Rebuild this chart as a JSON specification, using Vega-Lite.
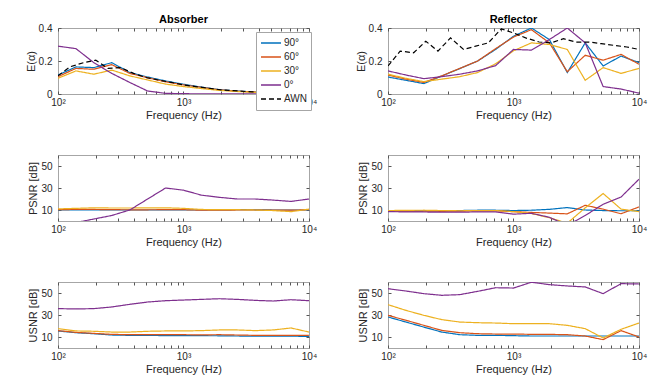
{
"$schema": "https://vega.github.io/schema/vega-lite/v6.json",
"padding": {"left": 24, "top": 13, "right": 5, "bottom": 5},
"background": "white",
"data": {"values": [
{"p":"AE","s":"90°","f":100,"v":0.115},{"p":"AE","s":"90°","f":139,"v":0.164},{"p":"AE","s":"90°","f":193,"v":0.16},{"p":"AE","s":"90°","f":268,"v":0.19},{"p":"AE","s":"90°","f":373,"v":0.13},{"p":"AE","s":"90°","f":518,"v":0.103},{"p":"AE","s":"90°","f":720,"v":0.079},{"p":"AE","s":"90°","f":1000,"v":0.059},{"p":"AE","s":"90°","f":1389,"v":0.042},{"p":"AE","s":"90°","f":1931,"v":0.026},{"p":"AE","s":"90°","f":2683,"v":0.018},{"p":"AE","s":"90°","f":3728,"v":0.012},{"p":"AE","s":"90°","f":5179,"v":0.009},{"p":"AE","s":"90°","f":7197,"v":0.007},{"p":"AE","s":"90°","f":10000,"v":0.005},
{"p":"AE","s":"60°","f":100,"v":0.105},{"p":"AE","s":"60°","f":139,"v":0.155},{"p":"AE","s":"60°","f":193,"v":0.15},{"p":"AE","s":"60°","f":268,"v":0.178},{"p":"AE","s":"60°","f":373,"v":0.125},{"p":"AE","s":"60°","f":518,"v":0.098},{"p":"AE","s":"60°","f":720,"v":0.074},{"p":"AE","s":"60°","f":1000,"v":0.055},{"p":"AE","s":"60°","f":1389,"v":0.04},{"p":"AE","s":"60°","f":1931,"v":0.025},{"p":"AE","s":"60°","f":2683,"v":0.017},{"p":"AE","s":"60°","f":3728,"v":0.012},{"p":"AE","s":"60°","f":5179,"v":0.009},{"p":"AE","s":"60°","f":7197,"v":0.007},{"p":"AE","s":"60°","f":10000,"v":0.005},
{"p":"AE","s":"30°","f":100,"v":0.095},{"p":"AE","s":"30°","f":139,"v":0.14},{"p":"AE","s":"30°","f":193,"v":0.12},{"p":"AE","s":"30°","f":268,"v":0.145},{"p":"AE","s":"30°","f":373,"v":0.11},{"p":"AE","s":"30°","f":518,"v":0.085},{"p":"AE","s":"30°","f":720,"v":0.06},{"p":"AE","s":"30°","f":1000,"v":0.045},{"p":"AE","s":"30°","f":1389,"v":0.033},{"p":"AE","s":"30°","f":1931,"v":0.022},{"p":"AE","s":"30°","f":2683,"v":0.015},{"p":"AE","s":"30°","f":3728,"v":0.01},{"p":"AE","s":"30°","f":5179,"v":0.008},{"p":"AE","s":"30°","f":7197,"v":0.006},{"p":"AE","s":"30°","f":10000,"v":0.004},
{"p":"AE","s":"0°","f":100,"v":0.29},{"p":"AE","s":"0°","f":139,"v":0.275},{"p":"AE","s":"0°","f":193,"v":0.19},{"p":"AE","s":"0°","f":268,"v":0.125},{"p":"AE","s":"0°","f":373,"v":0.07},{"p":"AE","s":"0°","f":518,"v":0.018},{"p":"AE","s":"0°","f":720,"v":0.004},{"p":"AE","s":"0°","f":1000,"v":0.002},{"p":"AE","s":"0°","f":1389,"v":0.001},{"p":"AE","s":"0°","f":1931,"v":0.001},{"p":"AE","s":"0°","f":2683,"v":0.001},{"p":"AE","s":"0°","f":3728,"v":0.001},{"p":"AE","s":"0°","f":5179,"v":0.001},{"p":"AE","s":"0°","f":7197,"v":0.001},{"p":"AE","s":"0°","f":10000,"v":0.001},
{"p":"AE","s":"AWN","f":100,"v":0.11},{"p":"AE","s":"AWN","f":125,"v":0.165},{"p":"AE","s":"AWN","f":160,"v":0.19},{"p":"AE","s":"AWN","f":200,"v":0.205},{"p":"AE","s":"AWN","f":250,"v":0.155},{"p":"AE","s":"AWN","f":315,"v":0.16},{"p":"AE","s":"AWN","f":400,"v":0.125},{"p":"AE","s":"AWN","f":500,"v":0.1},{"p":"AE","s":"AWN","f":630,"v":0.085},{"p":"AE","s":"AWN","f":800,"v":0.07},{"p":"AE","s":"AWN","f":1000,"v":0.055},{"p":"AE","s":"AWN","f":1250,"v":0.045},{"p":"AE","s":"AWN","f":1600,"v":0.035},{"p":"AE","s":"AWN","f":2000,"v":0.025},{"p":"AE","s":"AWN","f":2500,"v":0.02},{"p":"AE","s":"AWN","f":3150,"v":0.015},{"p":"AE","s":"AWN","f":4000,"v":0.012},{"p":"AE","s":"AWN","f":5000,"v":0.01},{"p":"AE","s":"AWN","f":6300,"v":0.008},{"p":"AE","s":"AWN","f":8000,"v":0.007},{"p":"AE","s":"AWN","f":10000,"v":0.006},
{"p":"RE","s":"90°","f":100,"v":0.103},{"p":"RE","s":"90°","f":139,"v":0.083},{"p":"RE","s":"90°","f":193,"v":0.063},{"p":"RE","s":"90°","f":268,"v":0.109},{"p":"RE","s":"90°","f":373,"v":0.154},{"p":"RE","s":"90°","f":518,"v":0.2},{"p":"RE","s":"90°","f":720,"v":0.27},{"p":"RE","s":"90°","f":1000,"v":0.35},{"p":"RE","s":"90°","f":1389,"v":0.4},{"p":"RE","s":"90°","f":1931,"v":0.33},{"p":"RE","s":"90°","f":2683,"v":0.13},{"p":"RE","s":"90°","f":3728,"v":0.31},{"p":"RE","s":"90°","f":5179,"v":0.17},{"p":"RE","s":"90°","f":7197,"v":0.23},{"p":"RE","s":"90°","f":10000,"v":0.19},
{"p":"RE","s":"60°","f":100,"v":0.115},{"p":"RE","s":"60°","f":139,"v":0.09},{"p":"RE","s":"60°","f":193,"v":0.07},{"p":"RE","s":"60°","f":268,"v":0.11},{"p":"RE","s":"60°","f":373,"v":0.155},{"p":"RE","s":"60°","f":518,"v":0.2},{"p":"RE","s":"60°","f":720,"v":0.275},{"p":"RE","s":"60°","f":1000,"v":0.345},{"p":"RE","s":"60°","f":1389,"v":0.39},{"p":"RE","s":"60°","f":1931,"v":0.31},{"p":"RE","s":"60°","f":2683,"v":0.135},{"p":"RE","s":"60°","f":3728,"v":0.235},{"p":"RE","s":"60°","f":5179,"v":0.205},{"p":"RE","s":"60°","f":7197,"v":0.24},{"p":"RE","s":"60°","f":10000,"v":0.18},
{"p":"RE","s":"30°","f":100,"v":0.12},{"p":"RE","s":"30°","f":139,"v":0.095},{"p":"RE","s":"30°","f":193,"v":0.075},{"p":"RE","s":"30°","f":268,"v":0.09},{"p":"RE","s":"30°","f":373,"v":0.105},{"p":"RE","s":"30°","f":518,"v":0.13},{"p":"RE","s":"30°","f":720,"v":0.183},{"p":"RE","s":"30°","f":1000,"v":0.262},{"p":"RE","s":"30°","f":1389,"v":0.31},{"p":"RE","s":"30°","f":1931,"v":0.3},{"p":"RE","s":"30°","f":2683,"v":0.27},{"p":"RE","s":"30°","f":3728,"v":0.083},{"p":"RE","s":"30°","f":5179,"v":0.16},{"p":"RE","s":"30°","f":7197,"v":0.125},{"p":"RE","s":"30°","f":10000,"v":0.155},
{"p":"RE","s":"0°","f":100,"v":0.14},{"p":"RE","s":"0°","f":139,"v":0.115},{"p":"RE","s":"0°","f":193,"v":0.093},{"p":"RE","s":"0°","f":268,"v":0.105},{"p":"RE","s":"0°","f":373,"v":0.12},{"p":"RE","s":"0°","f":518,"v":0.14},{"p":"RE","s":"0°","f":720,"v":0.172},{"p":"RE","s":"0°","f":1000,"v":0.27},{"p":"RE","s":"0°","f":1389,"v":0.266},{"p":"RE","s":"0°","f":1931,"v":0.33},{"p":"RE","s":"0°","f":2683,"v":0.4},{"p":"RE","s":"0°","f":3728,"v":0.31},{"p":"RE","s":"0°","f":5179,"v":0.045},{"p":"RE","s":"0°","f":7197,"v":0.03},{"p":"RE","s":"0°","f":10000,"v":0.005},
{"p":"RE","s":"AWN","f":100,"v":0.17},{"p":"RE","s":"AWN","f":125,"v":0.26},{"p":"RE","s":"AWN","f":160,"v":0.25},{"p":"RE","s":"AWN","f":200,"v":0.32},{"p":"RE","s":"AWN","f":250,"v":0.26},{"p":"RE","s":"AWN","f":315,"v":0.34},{"p":"RE","s":"AWN","f":400,"v":0.27},{"p":"RE","s":"AWN","f":500,"v":0.29},{"p":"RE","s":"AWN","f":630,"v":0.31},{"p":"RE","s":"AWN","f":800,"v":0.395},{"p":"RE","s":"AWN","f":1000,"v":0.37},{"p":"RE","s":"AWN","f":1250,"v":0.34},{"p":"RE","s":"AWN","f":1600,"v":0.315},{"p":"RE","s":"AWN","f":2000,"v":0.31},{"p":"RE","s":"AWN","f":2500,"v":0.335},{"p":"RE","s":"AWN","f":3150,"v":0.315},{"p":"RE","s":"AWN","f":4000,"v":0.315},{"p":"RE","s":"AWN","f":5000,"v":0.305},{"p":"RE","s":"AWN","f":6300,"v":0.295},{"p":"RE","s":"AWN","f":8000,"v":0.285},{"p":"RE","s":"AWN","f":10000,"v":0.27},
{"p":"AP","s":"90°","f":100,"v":10},{"p":"AP","s":"90°","f":139,"v":10},{"p":"AP","s":"90°","f":193,"v":10},{"p":"AP","s":"90°","f":268,"v":10},{"p":"AP","s":"90°","f":373,"v":10},{"p":"AP","s":"90°","f":518,"v":10},{"p":"AP","s":"90°","f":720,"v":10},{"p":"AP","s":"90°","f":1000,"v":10},{"p":"AP","s":"90°","f":1389,"v":10},{"p":"AP","s":"90°","f":1931,"v":10},{"p":"AP","s":"90°","f":2683,"v":10.3},{"p":"AP","s":"90°","f":3728,"v":10.2},{"p":"AP","s":"90°","f":5179,"v":10},{"p":"AP","s":"90°","f":7197,"v":10},{"p":"AP","s":"90°","f":10000,"v":10},
{"p":"AP","s":"60°","f":100,"v":10.3},{"p":"AP","s":"60°","f":139,"v":10.5},{"p":"AP","s":"60°","f":193,"v":10.5},{"p":"AP","s":"60°","f":268,"v":10.3},{"p":"AP","s":"60°","f":373,"v":10.2},{"p":"AP","s":"60°","f":518,"v":10.2},{"p":"AP","s":"60°","f":720,"v":10.3},{"p":"AP","s":"60°","f":1000,"v":10.3},{"p":"AP","s":"60°","f":1389,"v":9.8},{"p":"AP","s":"60°","f":1931,"v":9.8},{"p":"AP","s":"60°","f":2683,"v":10},{"p":"AP","s":"60°","f":3728,"v":10},{"p":"AP","s":"60°","f":5179,"v":10},{"p":"AP","s":"60°","f":7197,"v":9.8},{"p":"AP","s":"60°","f":10000,"v":10.3},
{"p":"AP","s":"30°","f":100,"v":11},{"p":"AP","s":"30°","f":139,"v":11.5},{"p":"AP","s":"30°","f":193,"v":12},{"p":"AP","s":"30°","f":268,"v":11.8},{"p":"AP","s":"30°","f":373,"v":11.8},{"p":"AP","s":"30°","f":518,"v":12},{"p":"AP","s":"30°","f":720,"v":12},{"p":"AP","s":"30°","f":1000,"v":11.5},{"p":"AP","s":"30°","f":1389,"v":10.5},{"p":"AP","s":"30°","f":1931,"v":10.3},{"p":"AP","s":"30°","f":2683,"v":10.3},{"p":"AP","s":"30°","f":3728,"v":10},{"p":"AP","s":"30°","f":5179,"v":9.5},{"p":"AP","s":"30°","f":7197,"v":8.5},{"p":"AP","s":"30°","f":10000,"v":10.8},
{"p":"AP","s":"0°","f":100,"v":-4.5},{"p":"AP","s":"0°","f":139,"v":-1.4},{"p":"AP","s":"0°","f":193,"v":1.8},{"p":"AP","s":"0°","f":268,"v":5},{"p":"AP","s":"0°","f":373,"v":10},{"p":"AP","s":"0°","f":518,"v":20},{"p":"AP","s":"0°","f":720,"v":30},{"p":"AP","s":"0°","f":1000,"v":28},{"p":"AP","s":"0°","f":1389,"v":23.5},{"p":"AP","s":"0°","f":1931,"v":21.5},{"p":"AP","s":"0°","f":2683,"v":20},{"p":"AP","s":"0°","f":3728,"v":20},{"p":"AP","s":"0°","f":5179,"v":19},{"p":"AP","s":"0°","f":7197,"v":17.8},{"p":"AP","s":"0°","f":10000,"v":20},
{"p":"RP","s":"90°","f":100,"v":9},{"p":"RP","s":"90°","f":139,"v":9.2},{"p":"RP","s":"90°","f":193,"v":9.3},{"p":"RP","s":"90°","f":268,"v":9.2},{"p":"RP","s":"90°","f":373,"v":9.5},{"p":"RP","s":"90°","f":518,"v":9.8},{"p":"RP","s":"90°","f":720,"v":9.8},{"p":"RP","s":"90°","f":1000,"v":9.5},{"p":"RP","s":"90°","f":1389,"v":9.8},{"p":"RP","s":"90°","f":1931,"v":10.6},{"p":"RP","s":"90°","f":2683,"v":12.2},{"p":"RP","s":"90°","f":3728,"v":10},{"p":"RP","s":"90°","f":5179,"v":9.5},{"p":"RP","s":"90°","f":7197,"v":9.3},{"p":"RP","s":"90°","f":10000,"v":9.3},
{"p":"RP","s":"60°","f":100,"v":8.8},{"p":"RP","s":"60°","f":139,"v":9},{"p":"RP","s":"60°","f":193,"v":9},{"p":"RP","s":"60°","f":268,"v":8.8},{"p":"RP","s":"60°","f":373,"v":9},{"p":"RP","s":"60°","f":518,"v":9.2},{"p":"RP","s":"60°","f":720,"v":9.3},{"p":"RP","s":"60°","f":1000,"v":8.5},{"p":"RP","s":"60°","f":1389,"v":7.8},{"p":"RP","s":"60°","f":1931,"v":7.2},{"p":"RP","s":"60°","f":2683,"v":6.5},{"p":"RP","s":"60°","f":3728,"v":14.3},{"p":"RP","s":"60°","f":5179,"v":10.8},{"p":"RP","s":"60°","f":7197,"v":6.6},{"p":"RP","s":"60°","f":10000,"v":12.8},
{"p":"RP","s":"30°","f":100,"v":9.5},{"p":"RP","s":"30°","f":139,"v":9.7},{"p":"RP","s":"30°","f":193,"v":9.8},{"p":"RP","s":"30°","f":268,"v":9.5},{"p":"RP","s":"30°","f":373,"v":9.3},{"p":"RP","s":"30°","f":518,"v":9.5},{"p":"RP","s":"30°","f":720,"v":9.5},{"p":"RP","s":"30°","f":1000,"v":8.5},{"p":"RP","s":"30°","f":1389,"v":6.8},{"p":"RP","s":"30°","f":1931,"v":3},{"p":"RP","s":"30°","f":2683,"v":-2},{"p":"RP","s":"30°","f":3728,"v":12},{"p":"RP","s":"30°","f":5179,"v":25},{"p":"RP","s":"30°","f":7197,"v":10.8},{"p":"RP","s":"30°","f":10000,"v":8.5},
{"p":"RP","s":"0°","f":100,"v":8.5},{"p":"RP","s":"0°","f":139,"v":8.3},{"p":"RP","s":"0°","f":193,"v":8.2},{"p":"RP","s":"0°","f":268,"v":8},{"p":"RP","s":"0°","f":373,"v":8},{"p":"RP","s":"0°","f":518,"v":8.3},{"p":"RP","s":"0°","f":720,"v":8.3},{"p":"RP","s":"0°","f":1000,"v":6.2},{"p":"RP","s":"0°","f":1389,"v":7},{"p":"RP","s":"0°","f":1931,"v":3.4},{"p":"RP","s":"0°","f":2683,"v":-4},{"p":"RP","s":"0°","f":3728,"v":5},{"p":"RP","s":"0°","f":5179,"v":15.2},{"p":"RP","s":"0°","f":7197,"v":21.8},{"p":"RP","s":"0°","f":10000,"v":38},
{"p":"AU","s":"90°","f":100,"v":15.5},{"p":"AU","s":"90°","f":139,"v":13.9},{"p":"AU","s":"90°","f":193,"v":13},{"p":"AU","s":"90°","f":268,"v":11.8},{"p":"AU","s":"90°","f":373,"v":11.5},{"p":"AU","s":"90°","f":518,"v":11.4},{"p":"AU","s":"90°","f":720,"v":11.3},{"p":"AU","s":"90°","f":1000,"v":11.3},{"p":"AU","s":"90°","f":1389,"v":11.2},{"p":"AU","s":"90°","f":1931,"v":11.1},{"p":"AU","s":"90°","f":2683,"v":10.9},{"p":"AU","s":"90°","f":3728,"v":10.8},{"p":"AU","s":"90°","f":5179,"v":10.7},{"p":"AU","s":"90°","f":7197,"v":10.7},{"p":"AU","s":"90°","f":10000,"v":10.6},
{"p":"AU","s":"60°","f":100,"v":15.8},{"p":"AU","s":"60°","f":139,"v":14.2},{"p":"AU","s":"60°","f":193,"v":13.3},{"p":"AU","s":"60°","f":268,"v":12.4},{"p":"AU","s":"60°","f":373,"v":12.1},{"p":"AU","s":"60°","f":518,"v":12.1},{"p":"AU","s":"60°","f":720,"v":12.1},{"p":"AU","s":"60°","f":1000,"v":12.1},{"p":"AU","s":"60°","f":1389,"v":11.9},{"p":"AU","s":"60°","f":1931,"v":12.1},{"p":"AU","s":"60°","f":2683,"v":11.8},{"p":"AU","s":"60°","f":3728,"v":11.5},{"p":"AU","s":"60°","f":5179,"v":11.5},{"p":"AU","s":"60°","f":7197,"v":11.5},{"p":"AU","s":"60°","f":10000,"v":11.5},
{"p":"AU","s":"30°","f":100,"v":17.6},{"p":"AU","s":"30°","f":139,"v":15.5},{"p":"AU","s":"30°","f":193,"v":15.2},{"p":"AU","s":"30°","f":268,"v":14.5},{"p":"AU","s":"30°","f":373,"v":14.5},{"p":"AU","s":"30°","f":518,"v":15.2},{"p":"AU","s":"30°","f":720,"v":15.5},{"p":"AU","s":"30°","f":1000,"v":15.5},{"p":"AU","s":"30°","f":1389,"v":15.8},{"p":"AU","s":"30°","f":1931,"v":16.4},{"p":"AU","s":"30°","f":2683,"v":16.4},{"p":"AU","s":"30°","f":3728,"v":15.8},{"p":"AU","s":"30°","f":5179,"v":16.4},{"p":"AU","s":"30°","f":7197,"v":18.2},{"p":"AU","s":"30°","f":10000,"v":14.5},
{"p":"AU","s":"0°","f":100,"v":35.8},{"p":"AU","s":"0°","f":139,"v":35.5},{"p":"AU","s":"0°","f":193,"v":35.8},{"p":"AU","s":"0°","f":268,"v":37.3},{"p":"AU","s":"0°","f":373,"v":39.7},{"p":"AU","s":"0°","f":518,"v":41.8},{"p":"AU","s":"0°","f":720,"v":43},{"p":"AU","s":"0°","f":1000,"v":43.6},{"p":"AU","s":"0°","f":1389,"v":44.2},{"p":"AU","s":"0°","f":1931,"v":44.8},{"p":"AU","s":"0°","f":2683,"v":44.2},{"p":"AU","s":"0°","f":3728,"v":43.3},{"p":"AU","s":"0°","f":5179,"v":42.7},{"p":"AU","s":"0°","f":7197,"v":43.9},{"p":"AU","s":"0°","f":10000,"v":43},
{"p":"RU","s":"90°","f":100,"v":28.2},{"p":"RU","s":"90°","f":139,"v":23.6},{"p":"RU","s":"90°","f":193,"v":19},{"p":"RU","s":"90°","f":268,"v":14.5},{"p":"RU","s":"90°","f":373,"v":12.1},{"p":"RU","s":"90°","f":518,"v":11.5},{"p":"RU","s":"90°","f":720,"v":11.5},{"p":"RU","s":"90°","f":1000,"v":11.2},{"p":"RU","s":"90°","f":1389,"v":10.9},{"p":"RU","s":"90°","f":1931,"v":10.9},{"p":"RU","s":"90°","f":2683,"v":10.9},{"p":"RU","s":"90°","f":3728,"v":10.9},{"p":"RU","s":"90°","f":5179,"v":10.9},{"p":"RU","s":"90°","f":7197,"v":10.9},{"p":"RU","s":"90°","f":10000,"v":10.9},
{"p":"RU","s":"60°","f":100,"v":29.7},{"p":"RU","s":"60°","f":139,"v":25.2},{"p":"RU","s":"60°","f":193,"v":20.6},{"p":"RU","s":"60°","f":268,"v":16},{"p":"RU","s":"60°","f":373,"v":13.9},{"p":"RU","s":"60°","f":518,"v":13},{"p":"RU","s":"60°","f":720,"v":12.7},{"p":"RU","s":"60°","f":1000,"v":12.7},{"p":"RU","s":"60°","f":1389,"v":12.4},{"p":"RU","s":"60°","f":1931,"v":12.4},{"p":"RU","s":"60°","f":2683,"v":12.1},{"p":"RU","s":"60°","f":3728,"v":10.9},{"p":"RU","s":"60°","f":5179,"v":7.6},{"p":"RU","s":"60°","f":7197,"v":15.8},{"p":"RU","s":"60°","f":10000,"v":10},
{"p":"RU","s":"30°","f":100,"v":39.4},{"p":"RU","s":"30°","f":139,"v":34.2},{"p":"RU","s":"30°","f":193,"v":29.7},{"p":"RU","s":"30°","f":268,"v":25.8},{"p":"RU","s":"30°","f":373,"v":23.6},{"p":"RU","s":"30°","f":518,"v":23},{"p":"RU","s":"30°","f":720,"v":22.7},{"p":"RU","s":"30°","f":1000,"v":22.1},{"p":"RU","s":"30°","f":1389,"v":22.1},{"p":"RU","s":"30°","f":1931,"v":22.1},{"p":"RU","s":"30°","f":2683,"v":20.6},{"p":"RU","s":"30°","f":3728,"v":17.6},{"p":"RU","s":"30°","f":5179,"v":9.1},{"p":"RU","s":"30°","f":7197,"v":17},{"p":"RU","s":"30°","f":10000,"v":22.7},
{"p":"RU","s":"0°","f":100,"v":53.9},{"p":"RU","s":"0°","f":139,"v":51.8},{"p":"RU","s":"0°","f":193,"v":49.4},{"p":"RU","s":"0°","f":268,"v":47.9},{"p":"RU","s":"0°","f":373,"v":48.5},{"p":"RU","s":"0°","f":518,"v":51.5},{"p":"RU","s":"0°","f":720,"v":54.8},{"p":"RU","s":"0°","f":1000,"v":54.5},{"p":"RU","s":"0°","f":1389,"v":59.8},{"p":"RU","s":"0°","f":1931,"v":57.6},{"p":"RU","s":"0°","f":2683,"v":56.4},{"p":"RU","s":"0°","f":3728,"v":55.5},{"p":"RU","s":"0°","f":5179,"v":49.4},{"p":"RU","s":"0°","f":7197,"v":58.5},{"p":"RU","s":"0°","f":10000,"v":58.2}
]},
"columns": 2,
"spacing": {"row": 61, "column": 79},
"bounds": "flush",
"resolve": {"scale": {"color": "shared", "strokeDash": "shared"}, "legend": {"color": "shared", "strokeDash": "shared"}},
"concat": [
{"width": 251, "height": 66, "title": "Absorber", "transform": [{"filter": "datum.p=='AE'"}],
 "resolve": {"axis": {"x": "independent", "y": "independent"}},
 "layer": [
 {"mark": {"type": "line", "clip": true, "strokeWidth": 1.2},
 "encoding": {
  "x": {"field": "f", "type": "quantitative", "scale": {"type": "log", "domain": [100, 10000], "nice": false}, "axis": {"title": "Frequency (Hz)", "values": [100,200,300,400,500,600,700,800,900,1000,2000,3000,4000,5000,6000,7000,8000,9000,10000], "labelExpr": "datum.value==100?'10²':datum.value==1000?'10³':datum.value==10000?'10⁴':''"}},
  "y": {"field": "v", "type": "quantitative", "scale": {"domain": [0, 0.4], "nice": false}, "axis": {"title": "E(α)", "values": [0, 0.2, 0.4], "format": "~g"}},
  "color": {"field": "s", "type": "nominal", "title": null, "scale": {"domain": ["90°","60°","30°","0°","AWN"], "range": ["#0072BD","#D95319","#EDB120","#7E2F8E","#000000"]}},
  "strokeDash": {"field": "s", "type": "nominal", "title": null, "scale": {"domain": ["90°","60°","30°","0°","AWN"], "range": [[1,0],[1,0],[1,0],[1,0],[5,3]]}}
 }},
 {"mark": {"type": "point", "opacity": 0},
 "encoding": {
  "x": {"field": "f", "type": "quantitative", "scale": {"type": "log", "domain": [100, 10000], "nice": false}, "axis": {"orient": "top", "title": null, "labels": false, "values": [100,200,300,400,500,600,700,800,900,1000,2000,3000,4000,5000,6000,7000,8000,9000,10000]}},
  "y": {"field": "v", "type": "quantitative", "scale": {"domain": [0, 0.4], "nice": false}, "axis": {"orient": "right", "title": null, "labels": false, "values": [0, 0.2, 0.4]}}
 }}
 ]},
{"width": 251, "height": 66, "title": "Reflector", "transform": [{"filter": "datum.p=='RE'"}],
 "resolve": {"axis": {"x": "independent", "y": "independent"}},
 "layer": [
 {"mark": {"type": "line", "clip": true, "strokeWidth": 1.2},
 "encoding": {
  "x": {"field": "f", "type": "quantitative", "scale": {"type": "log", "domain": [100, 10000], "nice": false}, "axis": {"title": "Frequency (Hz)", "values": [100,200,300,400,500,600,700,800,900,1000,2000,3000,4000,5000,6000,7000,8000,9000,10000], "labelExpr": "datum.value==100?'10²':datum.value==1000?'10³':datum.value==10000?'10⁴':''"}},
  "y": {"field": "v", "type": "quantitative", "scale": {"domain": [0, 0.4], "nice": false}, "axis": {"title": "E(α)", "values": [0, 0.2, 0.4], "format": "~g"}},
  "color": {"field": "s", "type": "nominal", "title": null, "scale": {"domain": ["90°","60°","30°","0°","AWN"], "range": ["#0072BD","#D95319","#EDB120","#7E2F8E","#000000"]}},
  "strokeDash": {"field": "s", "type": "nominal", "title": null, "scale": {"domain": ["90°","60°","30°","0°","AWN"], "range": [[1,0],[1,0],[1,0],[1,0],[5,3]]}}
 }},
 {"mark": {"type": "point", "opacity": 0},
 "encoding": {
  "x": {"field": "f", "type": "quantitative", "scale": {"type": "log", "domain": [100, 10000], "nice": false}, "axis": {"orient": "top", "title": null, "labels": false, "values": [100,200,300,400,500,600,700,800,900,1000,2000,3000,4000,5000,6000,7000,8000,9000,10000]}},
  "y": {"field": "v", "type": "quantitative", "scale": {"domain": [0, 0.4], "nice": false}, "axis": {"orient": "right", "title": null, "labels": false, "values": [0, 0.2, 0.4]}}
 }}
 ]},
{"width": 251, "height": 66, "transform": [{"filter": "datum.p=='AP'"}],
 "resolve": {"axis": {"x": "independent", "y": "independent"}},
 "layer": [
 {"mark": {"type": "line", "clip": true, "strokeWidth": 1.2},
 "encoding": {
  "x": {"field": "f", "type": "quantitative", "scale": {"type": "log", "domain": [100, 10000], "nice": false}, "axis": {"title": "Frequency (Hz)", "values": [100,200,300,400,500,600,700,800,900,1000,2000,3000,4000,5000,6000,7000,8000,9000,10000], "labelExpr": "datum.value==100?'10²':datum.value==1000?'10³':datum.value==10000?'10⁴':''"}},
  "y": {"field": "v", "type": "quantitative", "scale": {"domain": [0, 60], "nice": false}, "axis": {"title": "PSNR [dB]", "values": [10, 30, 50]}},
  "color": {"field": "s", "type": "nominal", "title": null, "scale": {"domain": ["90°","60°","30°","0°","AWN"], "range": ["#0072BD","#D95319","#EDB120","#7E2F8E","#000000"]}},
  "strokeDash": {"field": "s", "type": "nominal", "title": null, "scale": {"domain": ["90°","60°","30°","0°","AWN"], "range": [[1,0],[1,0],[1,0],[1,0],[5,3]]}}
 }},
 {"mark": {"type": "point", "opacity": 0},
 "encoding": {
  "x": {"field": "f", "type": "quantitative", "scale": {"type": "log", "domain": [100, 10000], "nice": false}, "axis": {"orient": "top", "title": null, "labels": false, "values": [100,200,300,400,500,600,700,800,900,1000,2000,3000,4000,5000,6000,7000,8000,9000,10000]}},
  "y": {"field": "v", "type": "quantitative", "scale": {"domain": [0, 60], "nice": false}, "axis": {"orient": "right", "title": null, "labels": false, "values": [10, 30, 50]}}
 }}
 ]},
{"width": 251, "height": 66, "transform": [{"filter": "datum.p=='RP'"}],
 "resolve": {"axis": {"x": "independent", "y": "independent"}},
 "layer": [
 {"mark": {"type": "line", "clip": true, "strokeWidth": 1.2},
 "encoding": {
  "x": {"field": "f", "type": "quantitative", "scale": {"type": "log", "domain": [100, 10000], "nice": false}, "axis": {"title": "Frequency (Hz)", "values": [100,200,300,400,500,600,700,800,900,1000,2000,3000,4000,5000,6000,7000,8000,9000,10000], "labelExpr": "datum.value==100?'10²':datum.value==1000?'10³':datum.value==10000?'10⁴':''"}},
  "y": {"field": "v", "type": "quantitative", "scale": {"domain": [0, 60], "nice": false}, "axis": {"title": "PSNR [dB]", "values": [10, 30, 50]}},
  "color": {"field": "s", "type": "nominal", "title": null, "scale": {"domain": ["90°","60°","30°","0°","AWN"], "range": ["#0072BD","#D95319","#EDB120","#7E2F8E","#000000"]}},
  "strokeDash": {"field": "s", "type": "nominal", "title": null, "scale": {"domain": ["90°","60°","30°","0°","AWN"], "range": [[1,0],[1,0],[1,0],[1,0],[5,3]]}}
 }},
 {"mark": {"type": "point", "opacity": 0},
 "encoding": {
  "x": {"field": "f", "type": "quantitative", "scale": {"type": "log", "domain": [100, 10000], "nice": false}, "axis": {"orient": "top", "title": null, "labels": false, "values": [100,200,300,400,500,600,700,800,900,1000,2000,3000,4000,5000,6000,7000,8000,9000,10000]}},
  "y": {"field": "v", "type": "quantitative", "scale": {"domain": [0, 60], "nice": false}, "axis": {"orient": "right", "title": null, "labels": false, "values": [10, 30, 50]}}
 }}
 ]},
{"width": 251, "height": 66, "transform": [{"filter": "datum.p=='AU'"}],
 "resolve": {"axis": {"x": "independent", "y": "independent"}},
 "layer": [
 {"mark": {"type": "line", "clip": true, "strokeWidth": 1.2},
 "encoding": {
  "x": {"field": "f", "type": "quantitative", "scale": {"type": "log", "domain": [100, 10000], "nice": false}, "axis": {"title": "Frequency (Hz)", "values": [100,200,300,400,500,600,700,800,900,1000,2000,3000,4000,5000,6000,7000,8000,9000,10000], "labelExpr": "datum.value==100?'10²':datum.value==1000?'10³':datum.value==10000?'10⁴':''"}},
  "y": {"field": "v", "type": "quantitative", "scale": {"domain": [0, 60], "nice": false}, "axis": {"title": "USNR [dB]", "values": [10, 30, 50]}},
  "color": {"field": "s", "type": "nominal", "title": null, "scale": {"domain": ["90°","60°","30°","0°","AWN"], "range": ["#0072BD","#D95319","#EDB120","#7E2F8E","#000000"]}},
  "strokeDash": {"field": "s", "type": "nominal", "title": null, "scale": {"domain": ["90°","60°","30°","0°","AWN"], "range": [[1,0],[1,0],[1,0],[1,0],[5,3]]}}
 }},
 {"mark": {"type": "point", "opacity": 0},
 "encoding": {
  "x": {"field": "f", "type": "quantitative", "scale": {"type": "log", "domain": [100, 10000], "nice": false}, "axis": {"orient": "top", "title": null, "labels": false, "values": [100,200,300,400,500,600,700,800,900,1000,2000,3000,4000,5000,6000,7000,8000,9000,10000]}},
  "y": {"field": "v", "type": "quantitative", "scale": {"domain": [0, 60], "nice": false}, "axis": {"orient": "right", "title": null, "labels": false, "values": [10, 30, 50]}}
 }}
 ]},
{"width": 251, "height": 66, "transform": [{"filter": "datum.p=='RU'"}],
 "resolve": {"axis": {"x": "independent", "y": "independent"}},
 "layer": [
 {"mark": {"type": "line", "clip": true, "strokeWidth": 1.2},
 "encoding": {
  "x": {"field": "f", "type": "quantitative", "scale": {"type": "log", "domain": [100, 10000], "nice": false}, "axis": {"title": "Frequency (Hz)", "values": [100,200,300,400,500,600,700,800,900,1000,2000,3000,4000,5000,6000,7000,8000,9000,10000], "labelExpr": "datum.value==100?'10²':datum.value==1000?'10³':datum.value==10000?'10⁴':''"}},
  "y": {"field": "v", "type": "quantitative", "scale": {"domain": [0, 60], "nice": false}, "axis": {"title": "USNR [dB]", "values": [10, 30, 50]}},
  "color": {"field": "s", "type": "nominal", "title": null, "scale": {"domain": ["90°","60°","30°","0°","AWN"], "range": ["#0072BD","#D95319","#EDB120","#7E2F8E","#000000"]}},
  "strokeDash": {"field": "s", "type": "nominal", "title": null, "scale": {"domain": ["90°","60°","30°","0°","AWN"], "range": [[1,0],[1,0],[1,0],[1,0],[5,3]]}}
 }},
 {"mark": {"type": "point", "opacity": 0},
 "encoding": {
  "x": {"field": "f", "type": "quantitative", "scale": {"type": "log", "domain": [100, 10000], "nice": false}, "axis": {"orient": "top", "title": null, "labels": false, "values": [100,200,300,400,500,600,700,800,900,1000,2000,3000,4000,5000,6000,7000,8000,9000,10000]}},
  "y": {"field": "v", "type": "quantitative", "scale": {"domain": [0, 60], "nice": false}, "axis": {"orient": "right", "title": null, "labels": false, "values": [10, 30, 50]}}
 }}
 ]}
],
"config": {
 "font": "Liberation Sans",
 "view": {"stroke": "#a6a6a6", "strokeWidth": 1},
 "axis": {"labelFont": "Liberation Sans", "labelFontSize": 10, "labelColor": "#262626", "titleFont": "Liberation Sans", "titleFontSize": 11, "titleFontWeight": "normal", "titleColor": "#262626", "domain": false, "grid": false, "tickColor": "#555555", "tickSize": -3, "labelOverlap": false, "labelFlush": false},
 "axisX": {"labelPadding": 6, "titlePadding": 2},
 "axisY": {"labelPadding": 9, "titlePadding": 2},
 "title": {"font": "Liberation Sans", "fontSize": 11, "fontWeight": "bold", "color": "#000000", "offset": -2},
 "legend": {"orient": "none", "legendX": 198, "legendY": 4, "symbolType": "stroke", "symbolSize": 400, "symbolStrokeWidth": 1.5, "labelFont": "Liberation Sans", "labelFontSize": 10, "labelColor": "#262626", "clipHeight": 14, "rowPadding": 0, "labelOffset": 2, "padding": 4, "strokeColor": "#a6a6a6", "fillColor": "white"}
}
}
